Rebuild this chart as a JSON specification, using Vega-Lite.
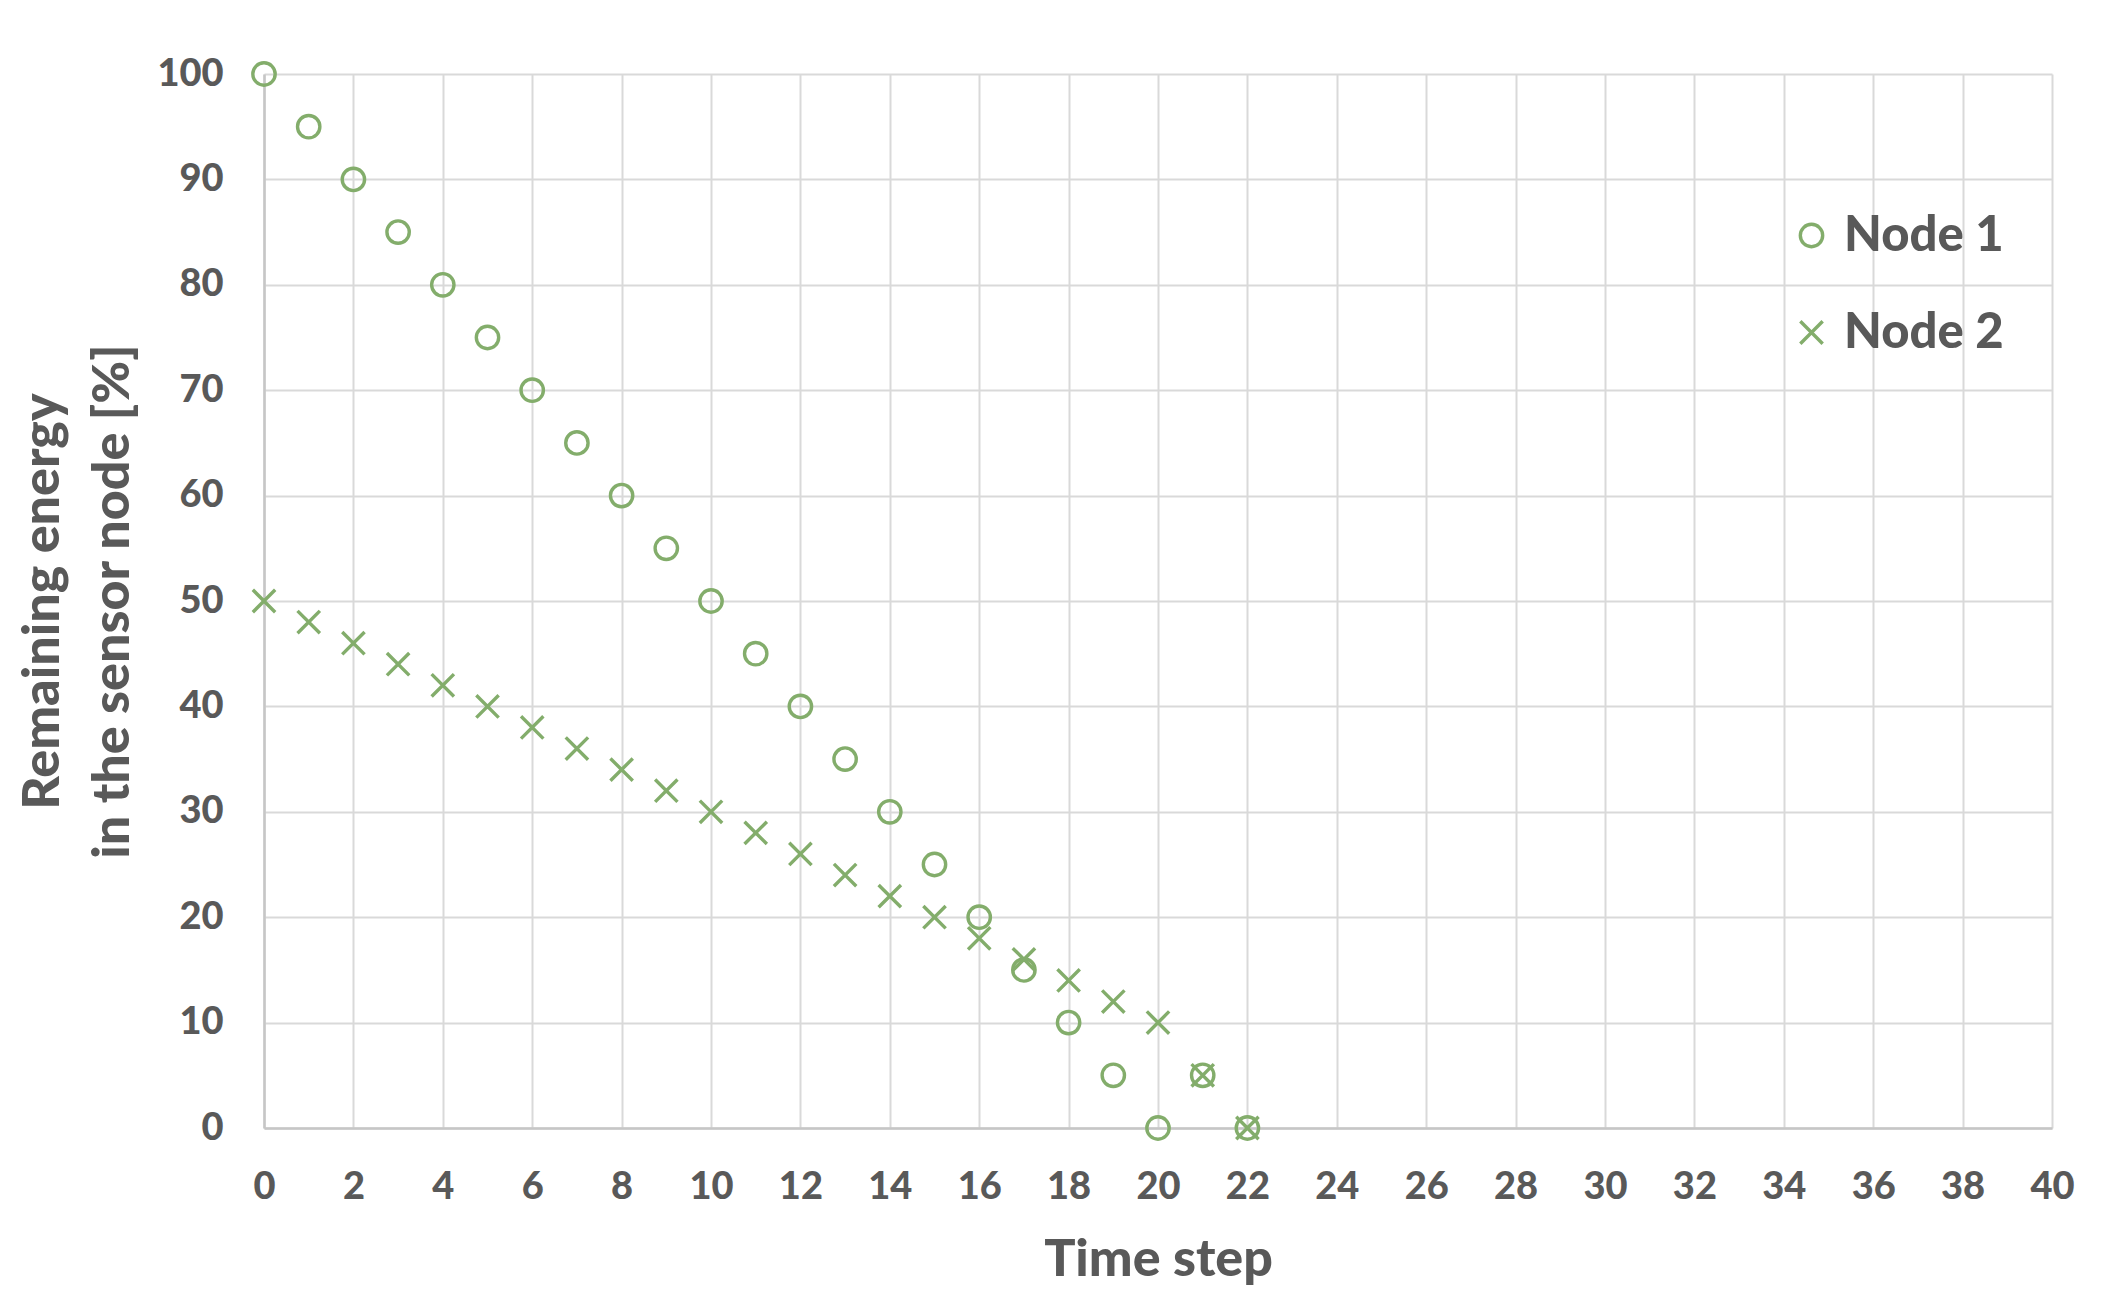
{
  "$schema": "https://vega.github.io/schema/vega-lite/v6.json",
  "autosize": {"type": "none"},
  "padding": {"left": 264, "top": 74, "right": 54, "bottom": 183},
  "width": 1788,
  "height": 1054,
  "background": "white",
  "config": {
    "view": {"stroke": null},
    "font": "Lato",
    "axis": {
      "labelFont": "Lato",
      "labelFontWeight": 900,
      "labelColor": "#595959",
      "labelFontSize": 38,
      "titleFont": "Lato",
      "titleFontWeight": 900,
      "titleColor": "#595959",
      "titleFontSize": 52,
      "gridColor": "#D9D9D9",
      "gridWidth": 2,
      "domainColor": "#C6C6C6",
      "domainWidth": 2.5,
      "ticks": false
    },
    "legend": {
      "labelFont": "Lato",
      "labelFontWeight": 900,
      "labelColor": "#595959",
      "labelFontSize": 49,
      "labelLimit": 600
    }
  },
  "data": {
    "values": [
      {"t": 0, "e": 100, "node": "Node 1"},
      {"t": 1, "e": 95, "node": "Node 1"},
      {"t": 2, "e": 90, "node": "Node 1"},
      {"t": 3, "e": 85, "node": "Node 1"},
      {"t": 4, "e": 80, "node": "Node 1"},
      {"t": 5, "e": 75, "node": "Node 1"},
      {"t": 6, "e": 70, "node": "Node 1"},
      {"t": 7, "e": 65, "node": "Node 1"},
      {"t": 8, "e": 60, "node": "Node 1"},
      {"t": 9, "e": 55, "node": "Node 1"},
      {"t": 10, "e": 50, "node": "Node 1"},
      {"t": 11, "e": 45, "node": "Node 1"},
      {"t": 12, "e": 40, "node": "Node 1"},
      {"t": 13, "e": 35, "node": "Node 1"},
      {"t": 14, "e": 30, "node": "Node 1"},
      {"t": 15, "e": 25, "node": "Node 1"},
      {"t": 16, "e": 20, "node": "Node 1"},
      {"t": 17, "e": 15, "node": "Node 1"},
      {"t": 18, "e": 10, "node": "Node 1"},
      {"t": 19, "e": 5, "node": "Node 1"},
      {"t": 20, "e": 0, "node": "Node 1"},
      {"t": 21, "e": 5, "node": "Node 1"},
      {"t": 22, "e": 0, "node": "Node 1"},
      {"t": 0, "e": 50, "node": "Node 2"},
      {"t": 1, "e": 48, "node": "Node 2"},
      {"t": 2, "e": 46, "node": "Node 2"},
      {"t": 3, "e": 44, "node": "Node 2"},
      {"t": 4, "e": 42, "node": "Node 2"},
      {"t": 5, "e": 40, "node": "Node 2"},
      {"t": 6, "e": 38, "node": "Node 2"},
      {"t": 7, "e": 36, "node": "Node 2"},
      {"t": 8, "e": 34, "node": "Node 2"},
      {"t": 9, "e": 32, "node": "Node 2"},
      {"t": 10, "e": 30, "node": "Node 2"},
      {"t": 11, "e": 28, "node": "Node 2"},
      {"t": 12, "e": 26, "node": "Node 2"},
      {"t": 13, "e": 24, "node": "Node 2"},
      {"t": 14, "e": 22, "node": "Node 2"},
      {"t": 15, "e": 20, "node": "Node 2"},
      {"t": 16, "e": 18, "node": "Node 2"},
      {"t": 17, "e": 16, "node": "Node 2"},
      {"t": 18, "e": 14, "node": "Node 2"},
      {"t": 19, "e": 12, "node": "Node 2"},
      {"t": 20, "e": 10, "node": "Node 2"},
      {"t": 21, "e": 5, "node": "Node 2"},
      {"t": 22, "e": 0, "node": "Node 2"}
    ]
  },
  "mark": {"type": "point", "filled": false, "strokeWidth": 3.4, "opacity": 1},
  "encoding": {
    "x": {
      "field": "t",
      "type": "quantitative",
      "scale": {"domain": [0, 40], "nice": false, "zero": false},
      "axis": {
        "values": [0,2,4,6,8,10,12,14,16,18,20,22,24,26,28,30,32,34,36,38,40],
        "title": "Time step",
        "labelPadding": 40,
        "titlePadding": 28,
        "labelFlush": false,
        "labelOverlap": false
      }
    },
    "y": {
      "field": "e",
      "type": "quantitative",
      "scale": {"domain": [0, 100], "nice": false},
      "axis": {
        "values": [0,10,20,30,40,50,60,70,80,90,100],
        "title": ["Remaining energy", "in the sensor node [%]"],
        "titleLineHeight": 70,
        "labelPadding": 41,
        "titlePadding": 17,
        "labelFlush": false
      }
    },
    "shape": {
      "field": "node",
      "type": "nominal",
      "scale": {"domain": ["Node 1", "Node 2"], "range": ["circle", "M-1,-1L1,1M-1,1L1,-1"]},
      "legend": {
        "title": null,
        "orient": "none",
        "legendX": 1523,
        "legendY": 137,
        "padding": 0,
        "rowPadding": 47,
        "labelOffset": 8,
        "symbolSize": 500,
        "symbolStrokeWidth": 3.4,
        "symbolStrokeColor": "#83AD6B",
        "symbolFillColor": "transparent"
      }
    },
    "color": {"value": "#83AD6B"},
    "size": {"value": 500}
  }
}
